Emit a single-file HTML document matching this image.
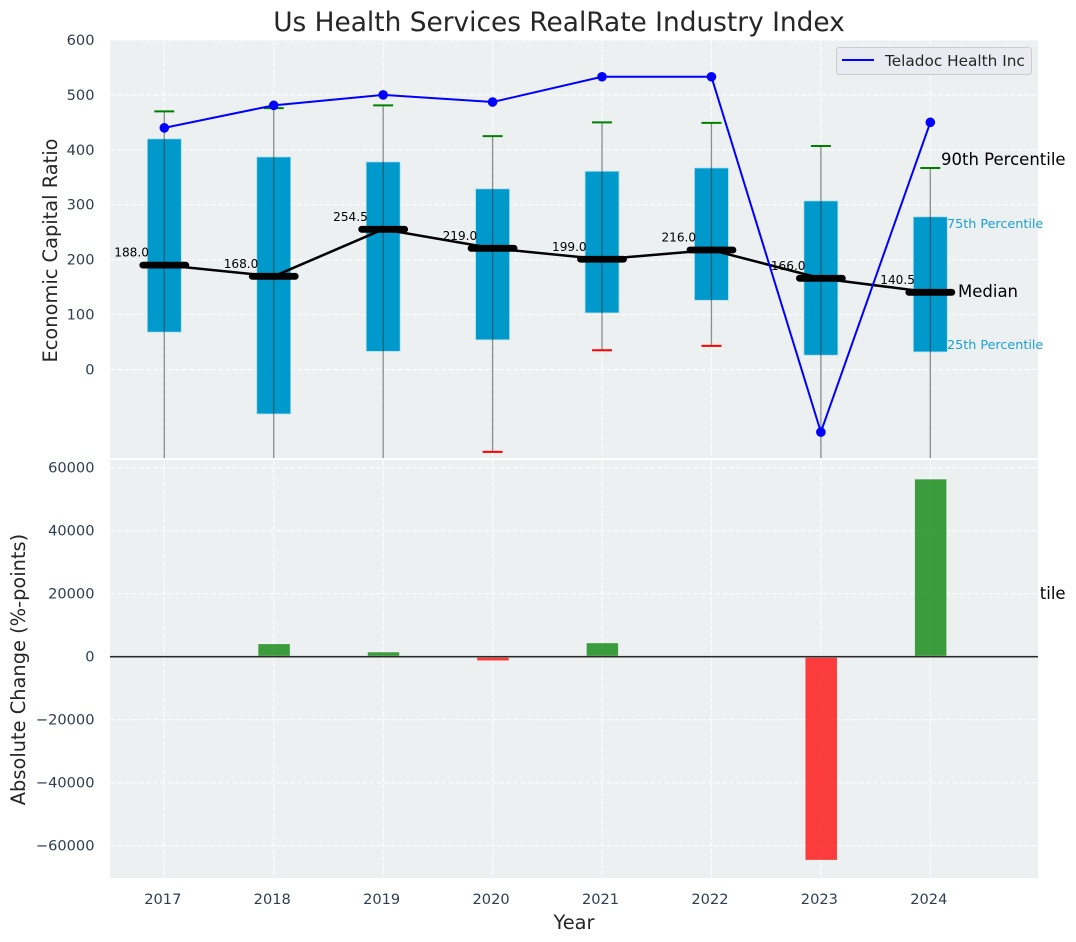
<!DOCTYPE html>
<html lang="en">
<head>
<meta charset="utf-8">
<title>Us Health Services RealRate Industry Index</title>
<style>
html,body{margin:0;padding:0;background:#fff;}
body{width:1076px;height:942px;overflow:hidden;}
svg{display:block;font-family:"DejaVu Sans","Liberation Sans",sans-serif;}
</style>
</head>
<body>
<svg id="chart" xmlns="http://www.w3.org/2000/svg" width="1076" height="942" viewBox="0 0 1076 942">
  <defs>
    <clipPath id="top-clip"><rect x="110" y="40" width="928" height="418"/></clipPath>
    <clipPath id="bottom-clip"><rect x="110" y="460" width="928" height="418"/></clipPath>
    <clipPath id="remnant-clip"><rect x="1040.5" y="570" width="36" height="50"/></clipPath>
  </defs>
  <g clip-path="url(#remnant-clip)">
    <text x="941" y="599" font-size="16.5px" fill="#000">90th Percentile</text>
  </g>
  <rect x="110" y="40" width="928" height="418" fill="#ecf0f1"/>
  <rect x="110" y="460" width="928" height="418" fill="#ecf0f1"/>
  <g id="top-grid"></g>
  <g id="bottom-grid"></g>
  <g id="top-marks" clip-path="url(#top-clip)"></g>
  <g id="bottom-marks" clip-path="url(#bottom-clip)"></g>
  <g id="labels"></g>
  <g id="ticks"></g>

  <text x="559" y="31" text-anchor="middle" font-size="26.4px" fill="#262626">Us Health Services RealRate Industry Index</text>
  <text transform="translate(57,250.5) rotate(-90)" text-anchor="middle" font-size="19.4px" fill="#262626">Economic Capital Ratio</text>
  <text transform="translate(25,669.5) rotate(-90)" text-anchor="middle" font-size="19.4px" fill="#262626">Absolute Change (%-points)</text>
  <text x="574" y="929" text-anchor="middle" font-size="19.4px" fill="#262626">Year</text>

  <text x="941" y="165" font-size="16.5px" fill="#000">90th Percentile</text>
  <text x="947" y="228" font-size="12.75px" fill="#1a9fd0">75th Percentile</text>
  <text x="958" y="297" font-size="16.5px" fill="#000">Median</text>
  <text x="947" y="349" font-size="12.75px" fill="#1a9fd0">25th Percentile</text>

  <g>
    <rect x="836.5" y="47.5" width="195" height="27" rx="3" fill="#eaeaf2" stroke="#cccccc" stroke-width="1"/>
    <line x1="842" y1="60" x2="874" y2="60" stroke="#0000ff" stroke-width="2"/>
    <text x="885" y="66" font-size="15.3px" fill="#262626">Teladoc Health Inc</text>
  </g>
</svg>
<script>
const years = [2017, 2018, 2019, 2020, 2021, 2022, 2023, 2024];
const p90 = [470, 476, 481, 425, 450, 449, 407, 367];
const p75 = [420, 387, 378, 329, 361, 367, 307, 278];
const medians = [190, 169.7, 255.3, 220.7, 200.7, 217.6, 166, 140.5];
const medianLabels = [188.0, 168.0, 254.5, 219.0, 199.0, 216.0, 166.0, 140.5];
const p25 = [68, -81, 33, 54, 103, 126, 26, 32];
const p10 = [-200, -200, -200, -150, 35, 43, -200, -200];
const company = [440, 481, 500, 487, 533, 533, -114, 450];
const changes = [0, 4000, 1400, -1200, 4300, 0, -64500, 56300];
const topTicks = [0, 100, 200, 300, 400, 500, 600];
const bottomTicks = [-60000, -40000, -20000, 0, 20000, 40000, 60000];

const NS = 'http://www.w3.org/2000/svg';
const xScale = yr => 164.3 + (yr - 2017) * 109.43;
const yTop = v => 369.5 - v * 0.5492;
const yBottom = v => 656.7 - v * 0.00315;

function make(parent, tag, attrs, text) {
  const el = document.createElementNS(NS, tag);
  for (const k in attrs) el.setAttribute(k, attrs[k]);
  if (text !== undefined) el.textContent = text;
  document.getElementById(parent).appendChild(el);
  return el;
}

const gridDash = '5,2.2';
function gridStyle(x1, y1, x2, y2) {
  return {x1, y1, x2, y2, stroke: '#ffffff', 'stroke-width': 1.2, 'stroke-dasharray': gridDash, 'stroke-opacity': 0.9};
}

topTicks.forEach(t => {
  const g = make('top-grid', 'line', gridStyle(110, yTop(t), 1038, yTop(t)));
  
  
  const l = make('ticks', 'text', {x: 94.5, y: yTop(t) + 5, 'text-anchor': 'end', 'font-size': '14.6px', fill: '#2c3e50'}, String(t));
  
  
});

bottomTicks.forEach(t => {
  const g = make('bottom-grid', 'line', gridStyle(110, yBottom(t), 1038, yBottom(t)));
  
  
  const txt = t < 0 ? '\u2212' + Math.abs(t) : String(t);
  const l = make('ticks', 'text', {x: 94.5, y: yBottom(t) + 5, 'text-anchor': 'end', 'font-size': '14.6px', fill: '#2c3e50'}, txt);
  
  
});

years.forEach(yr => {
  const x = xScale(yr);
  const g1 = make('top-grid', 'line', gridStyle(x, 40, x, 458));
  
  
  const g2 = make('bottom-grid', 'line', gridStyle(x, 460, x, 878));
  
  
  const l = make('ticks', 'text', {x: x - 1.5, y: 904, 'text-anchor': 'middle', 'font-size': '14.6px', fill: '#2c3e50'}, String(yr));
  
  
});

years.forEach((yr, i) => {
  const x = xScale(yr);
  const box = make('top-marks', 'rect', {x: x - 17, y: yTop(p75[i]), width: 34, height: yTop(p25[i]) - yTop(p75[i]), fill: '#0099cc', stroke: '#b5dfee', 'stroke-width': 0.8});
  
  
});

years.forEach((yr, i) => {
  const x = xScale(yr);
  const w = make('top-marks', 'line', {x1: x, y1: yTop(p90[i]), x2: x, y2: yTop(p10[i]), stroke: '#333333', 'stroke-opacity': 0.55, 'stroke-width': 1.3});
  
  
  const hi = make('top-marks', 'line', {x1: x - 10, y1: yTop(p90[i]), x2: x + 10, y2: yTop(p90[i]), stroke: '#008000', 'stroke-width': 2});
  
  
  const lo = make('top-marks', 'line', {x1: x - 10, y1: yTop(p10[i]), x2: x + 10, y2: yTop(p10[i]), stroke: '#ff0000', 'stroke-width': 2});
  
  
});

const medianPoints = years.map((yr, i) => xScale(yr) + ',' + yTop(medians[i])).join(' ');
const medianLine = make('top-marks', 'polyline', {points: medianPoints, fill: 'none', stroke: '#000', 'stroke-width': 2.5});



years.forEach((yr, i) => {
  const x = xScale(yr);
  const m = make('top-marks', 'line', {x1: x - 21.5, y1: yTop(medians[i]), x2: x + 21.5, y2: yTop(medians[i]), stroke: '#000', 'stroke-width': 6.8, 'stroke-linecap': 'round'});
  
  
  const l = make('labels', 'text', {x: x - 32.7, y: yTop(medians[i]) - 8.5, 'text-anchor': 'middle', 'font-size': '12.1px', fill: '#000'}, medianLabels[i].toFixed(1));
  
  
});

const companyPoints = years.map((yr, i) => xScale(yr) + ',' + yTop(company[i])).join(' ');
const companyLine = make('top-marks', 'polyline', {points: companyPoints, fill: 'none', stroke: '#0000ff', 'stroke-width': 2});



years.forEach((yr, i) => {
  const c = make('top-marks', 'circle', {cx: xScale(yr), cy: yTop(company[i]), r: 4.8, fill: '#0000ff'});
  
  
});

years.forEach((yr, i) => {
  if (changes[i] === 0) return;
  const y0 = yBottom(0), y1 = yBottom(changes[i]);
  const up = changes[i] > 0;
  const b = make('bottom-marks', 'rect', {x: xScale(yr) - 15.4, y: Math.min(y0, y1), width: 31.5, height: Math.abs(y1 - y0), fill: up ? '#008000' : '#ff0000', 'fill-opacity': 0.75});
  
  
});

const zeroUnder = make('bottom-marks', 'line', {x1: 110, y1: yBottom(0), x2: 1038, y2: yBottom(0), stroke: '#aaaaaa', 'stroke-width': 2});


const zero = make('bottom-marks', 'line', {x1: 110, y1: yBottom(0), x2: 1038, y2: yBottom(0), stroke: '#000', 'stroke-width': 1});


</script>
</body>
</html>
